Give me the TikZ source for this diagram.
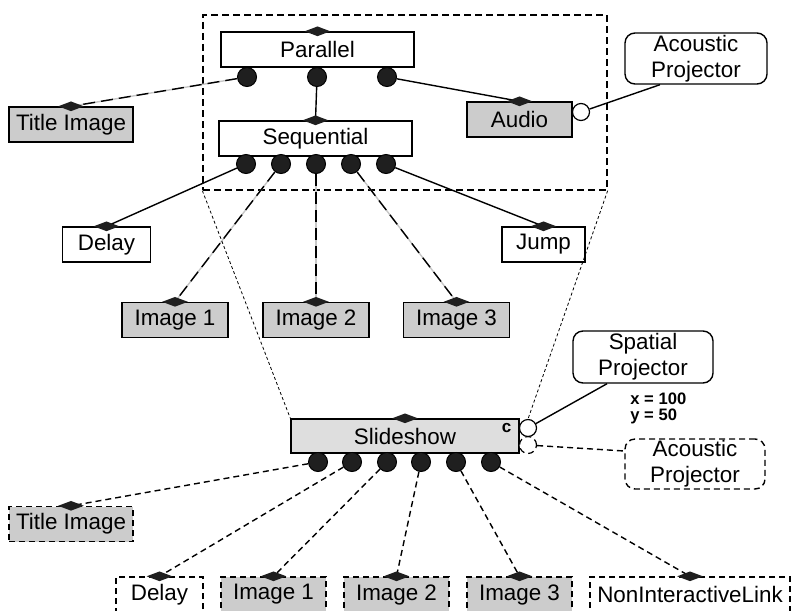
\documentclass[tikz,border=0pt]{standalone}
\usepackage{fontspec}
\setmainfont{Liberation Sans}
\usetikzlibrary{shapes.geometric}
\definecolor{mediagray}{RGB}{204,204,204}
\definecolor{slidegray}{RGB}{222,222,222}
\colorlet{portblack}{black!88}
\tikzstyle{elem}=[draw, line width=0.7pt, minimum height=17.5pt, inner sep=0pt, font=\fontsize{11.2}{13}\selectfont]
\tikzstyle{media}=[elem, fill=mediagray]
\tikzstyle{projector}=[elem, rounded corners=5pt, align=center, minimum height=25.5pt]
\tikzstyle{dashed elem}=[dash pattern=on 3pt off 2pt]
\tikzstyle{port}=[circle, draw, fill=portblack, inner sep=0pt, minimum size=9.5pt, line width=0.5pt]
\tikzstyle{freeport}=[circle, draw, fill=white, inner sep=0pt, minimum size=8.5pt, line width=0.6pt]
\tikzstyle{handle}=[diamond, aspect=2.5, fill=portblack, inner sep=0pt, minimum width=13pt, minimum height=5pt]
\tikzstyle{link}=[line width=0.7pt]
\tikzstyle{mixed link}=[link, draw=black!22, postaction={draw=black, dash pattern=on 6pt off 3pt}]
\tikzstyle{dashed link}=[link, dash pattern=on 3pt off 2pt]
\tikzstyle{zoom line}=[line width=0.4pt, dash pattern=on 1.5pt off 1.2pt]

\begin{document}
\begin{tikzpicture}[x=0.5pt, y=-0.5pt]
\useasboundingbox (0,0) rectangle (795,610);
\clip (0,0) rectangle (795,610);

% expanded composite
\node[draw, dash pattern=on 3.5pt off 2pt, line width=0.65pt, minimum width=202pt, minimum height=87.5pt, inner sep=0pt] (zoom_frame) at (405,102.5) {};

\node[elem, minimum width=96.5pt] (par) at (317.5,49.5) {Parallel};
\node[elem, minimum width=96.5pt] (seq) at (315.5,138.5) {Sequential};
\node[media, minimum width=52.5pt] (audio) at (519.5,119.5) {Audio};
\node[media, minimum width=62pt] (title_top) at (71,124.5) {Title Image};
\node[projector, minimum width=71pt] (acoustic_top) at (696,58.5) {Acoustic\\Projector};
\node[elem, minimum width=44pt] (delay_top) at (106.5,244.5) {Delay};
\node[media, minimum width=53pt] (img1_top) at (175,320) {Image 1};
\node[media, minimum width=53pt] (img2_top) at (316,320) {Image 2};
\node[media, minimum width=53pt] (img3_top) at (456.5,320) {Image 3};
\node[elem, minimum width=41.5pt] (jump) at (543.5,244.5) {Jump};

\foreach \i/\x in {1/247,2/317,3/387}
    \node[port] (par_port\i) at (\x,77) {};
\foreach \i/\x in {1/246,2/281,3/316,4/351,5/386}
    \node[port] (seq_port\i) at (\x,164) {};
\node[freeport] (audio_out) at (581,112) {};

% collapsed composite
\node[elem, fill=slidegray, minimum width=114pt, minimum height=17pt] (slideshow) at (405,436) {Slideshow};
\node[font=\bfseries\fontsize{8.5}{9}\selectfont, anchor=north east, inner sep=0pt] (comp_mark) at ([xshift=-4pt,yshift=-2.5pt]slideshow.north east) {c};

\foreach \i/\x in {1/318,2/352,3/387,4/421,5/456,6/491}
    \node[port] (slide_port\i) at (\x,462) {};
\node[freeport, dashed elem] (acoustic_out) at (528,445) {};
\node[freeport] (spatial_out) at (528,428) {};

\node[projector, minimum width=70pt, minimum height=26pt] (spatial) at (643,357) {Spatial\\Projector};
\node[font=\bfseries\fontsize{8.3}{8.2}\selectfont, align=left, anchor=north west, inner sep=0pt] (coords) at (630,392) {x = 100\\y = 50};
\node[projector, dashed elem, minimum width=70pt, minimum height=25pt] (acoustic) at (695,464) {Acoustic\\Projector};

\node[media, dashed elem, minimum width=62pt] (title_bot) at (71,524) {Title Image};
\node[elem, dashed elem, minimum width=43.5pt] (delay_bot) at (159.5,594.5) {Delay};
\node[media, dashed elem, minimum width=52.5pt] (img1_bot) at (273.5,594.5) {Image 1};
\node[media, dashed elem, minimum width=52.5pt] (img2_bot) at (396.5,594.5) {Image 2};
\node[media, dashed elem, minimum width=52.5pt] (img3_bot) at (519.5,594.5) {Image 3};
\node[elem, dashed elem, minimum width=100pt] (nil) at (690,594.5) {NonInteractiveLink};

\begin{scope}[link]
    \draw[mixed link] (par_port1) -- (title_top.north);
    \draw (par_port2) -- (seq.north);
    \draw (par_port3) -- (audio.north);
    \draw (audio_out) -- ([xshift=-18pt]acoustic_top.south);

    \draw (seq_port1) -- (delay_top.north);
    \draw[mixed link] (seq_port2) -- (img1_top.north);
    \draw[mixed link] (seq_port3) -- (img2_top.north);
    \draw[mixed link] (seq_port4) -- (img3_top.north);
    \draw (seq_port5) -- (jump.north);

    \draw[zoom line] (zoom_frame.south west) -- (slideshow.north west);
    \draw[zoom line] (zoom_frame.south east) -- (spatial_out.north);

    \draw (spatial_out) -- ([xshift=-18pt]spatial.south);
    \draw[dashed link] (acoustic_out) -- ([yshift=6.5pt]acoustic.west);

    \draw[dashed link] (slide_port1) -- (title_bot.north);
    \draw[dashed link] (slide_port2) -- (delay_bot.north);
    \draw[dashed link] (slide_port3) -- (img1_bot.north);
    \draw[dashed link] (slide_port4) -- (img2_bot.north);
    \draw[dashed link] (slide_port5) -- (img3_bot.north);
    \draw[dashed link] (slide_port6) -- (nil.north);
\end{scope}

\foreach \n in {par,seq,audio,title_top,delay_top,img1_top,img2_top,img3_top,jump,slideshow,title_bot,delay_bot,img1_bot,img2_bot,img3_bot,nil}
    \node[handle] at (\n.north) {};

\end{tikzpicture}
\end{document}
